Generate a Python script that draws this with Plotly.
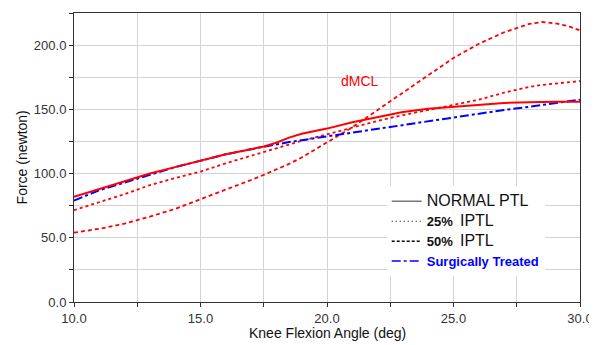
import plotly.graph_objects as go

angle = [10, 11, 12, 12.5, 13, 14, 15, 16, 17, 17.5, 18, 18.5, 19, 20, 21, 22, 23, 24, 25, 26, 27, 28, 28.5, 29, 29.5, 30]

normal_ptl = [82, 88, 94, 97, 100, 105, 110, 115, 119, 121, 124, 128, 131, 135, 140, 144, 148, 150.5, 152, 153.5, 155, 155.5, 156, 156, 156, 156]
iptl_25 = [71.5, 77.5, 84, 87.5, 91, 96.5, 101.5, 108, 114, 117, 120, 123, 125.5, 130.5, 136, 141, 145.5, 149.5, 153, 157.5, 163, 167.5, 169, 170, 171, 172]
iptl_50 = [54, 57, 61, 63.5, 66.5, 72.5, 80, 87, 95, 99, 103, 107.5, 112.5, 124, 136, 149.5, 163, 177, 190, 201, 210, 216.5, 218, 217, 215, 211.5]
surgical = [79, 87, 93, 96, 99, 105, 110, 115, 119, 121, 123, 124.5, 126, 129, 131.5, 134.5, 137.5, 140.5, 143.5, 146.5, 149.5, 152, 153.5, 155, 156.3, 157.5]

legend_names = ["<span style='font-size:16px'>NORMAL PTL</span>",
                "<b>25%</b>  <span style='font-size:16px'>IPTL</span>",
                "<b>50%</b>  <span style='font-size:16px'>IPTL</span>",
                "<span style='color:#0000ff'><b>Surgically Treated</b></span>"]

x_ticks = [10, 12.5, 15, 17.5, 20, 22.5, 25, 27.5, 30]
x_labels = ["10.0", "", "15.0", "", "20.0", "", "25.0", "", "30.0"]
y_ticks = [0, 25, 50, 75, 100, 125, 150, 175, 200, 225]
y_labels = ["0.0", "", "50.0", "", "100.0", "", "150.0", "", "200.0", ""]

RED = "#ff0000"
FONT = "Liberation Sans, Arial"
fig = go.Figure()
fig.add_trace(go.Scatter(x=angle, y=iptl_50, mode="lines", showlegend=False,
                         line=dict(color=RED, width=1.8, dash="4px,3px")))
fig.add_trace(go.Scatter(x=angle, y=iptl_25, mode="lines", showlegend=False,
                         line=dict(color=RED, width=1.8, dash="dot")))
fig.add_trace(go.Scatter(x=angle, y=surgical, mode="lines", showlegend=False,
                         line=dict(color="#0000ff", width=2, dash="dashdot")))
fig.add_trace(go.Scatter(x=angle, y=normal_ptl, mode="lines", showlegend=False,
                         line=dict(color=RED, width=2)))

# legend entries
leg_styles = [dict(color="#777777", width=1.5, dash="solid"),
              dict(color="#000000", width=1.2, dash="1px,3px"),
              dict(color="#000000", width=1.5, dash="3px,2px"),
              dict(color="#0000ff", width=1.5, dash="dashdot")]
for name, st in zip(legend_names, leg_styles):
    fig.add_trace(go.Scatter(x=[None], y=[None], mode="lines", name=name, line=st))

fig.add_annotation(x=21.3, y=172, text="dMCL", showarrow=False,
                   font=dict(color=RED, size=14, family=FONT))
fig.add_annotation(xref="paper", yref="paper", x=0.5, y=-0.108, yanchor="middle",
                   text="Knee Flexion Angle (deg)", showarrow=False,
                   font=dict(size=14, color="#111111", family=FONT))
fig.add_annotation(xref="paper", yref="paper", x=-0.103, y=0.5, textangle=-90,
                   xanchor="center", yanchor="middle", text="Force (newton)", showarrow=False,
                   font=dict(size=14, color="#111111", family=FONT))

# page body has an 8px margin; size/margins compensate so the figure fills 597x345
fig.update_layout(
    width=589, height=337,
    margin=dict(l=66, r=17, t=5, b=43),
    plot_bgcolor="white", paper_bgcolor="white",
    font=dict(family=FONT, size=13, color="#222222"),
    legend=dict(x=0.618, y=0.40, xanchor="left", yanchor="top",
                bgcolor="white", borderwidth=0, itemwidth=30,
                font=dict(size=13, color="#111111"), tracegroupgap=0),
    xaxis=dict(range=[10, 30], tickvals=x_ticks, ticktext=x_labels,
               ticks="outside", ticklen=4, tickcolor="#333", automargin=False,
               showline=True, linecolor="#333", linewidth=1, mirror=True,
               showgrid=True, gridcolor="#d4d4d4", zeroline=False,
               tickfont=dict(size=13, color="#333")),
    yaxis=dict(range=[0, 225], tickvals=y_ticks, ticktext=y_labels,
               ticks="outside", ticklen=4, tickcolor="#333", automargin=False,
               showline=True, linecolor="#333", linewidth=1, mirror=True,
               showgrid=True, gridcolor="#d4d4d4", zeroline=False,
               tickfont=dict(size=13, color="#333")),
)

fig.write_html("out.html")
